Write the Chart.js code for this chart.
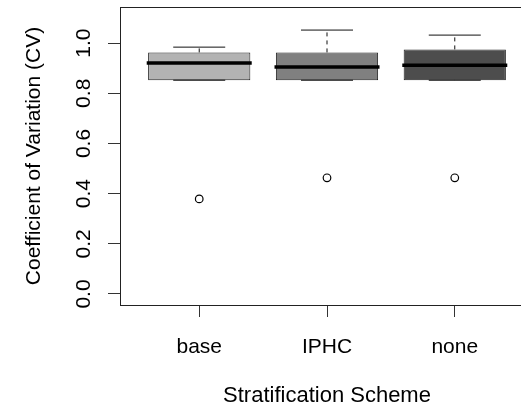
<!DOCTYPE html>
<html>
<head>
<meta charset="utf-8">
<script src="https://cdn.jsdelivr.net/npm/chart.js@4.4.1/dist/chart.umd.min.js"></script>
<style>
    html, body { margin: 0; padding: 0; background: #ffffff; overflow: hidden; }
    #grafico { display: block; }
</style>
</head>
<body>
<canvas id="grafico" width="560" height="409"></canvas>
<script>
const esquemas = ["base", "IPHC", "none"];
const posicoes = [1, 2, 3];
const minimos = [0.852, 0.852, 0.852];
const quartil1 = [0.852, 0.852, 0.852];
const medianas = [0.921, 0.905, 0.912];
const quartil3 = [0.963, 0.963, 0.975];
const maximos = [0.984, 1.052, 1.032];
const outliers = [0.379, 0.463, 0.463];
const coresCaixa = ['#b3b3b3', '#808080', '#4d4d4d'];
const yTicks = [0, 0.2, 0.4, 0.6, 0.8, 1.0];
const yTickLabels = ["0.0", "0.2", "0.4", "0.6", "0.8", "1.0"];

const fonte = { family: "'Liberation Sans', Arial, sans-serif", size: 21 };

// moldura da area do grafico (box() do R)
const moldura = {
    id: 'moldura',
    afterDraw(chart) {
        const a = chart.chartArea;
        const ctx = chart.ctx;
        ctx.save();
        ctx.strokeStyle = '#222';
        ctx.lineWidth = 1;
        ctx.strokeRect(a.left + 0.5, a.top + 0.5, a.right - a.left, a.bottom - a.top);
        ctx.restore();
    }
};

const bigodes = posicoes.map((p, i) => ({
    type: 'line',
    data: [{ x: p, y: quartil3[i] }, { x: p, y: maximos[i] }],
    borderColor: '#111',
    borderWidth: 1,
    borderDash: [4, 4],
    pointRadius: 0,
    order: 4
}));

const bigodesBaixo = posicoes.map((p, i) => ({
    type: 'line',
    data: [{ x: p, y: quartil1[i] }, { x: p, y: minimos[i] }],
    borderColor: '#111',
    borderWidth: 1,
    borderDash: [4, 4],
    pointRadius: 0,
    order: 4
}));

new Chart(document.getElementById("grafico"), {
    type: 'bar',
    data: {
        datasets: [
            {
                label: "caixas",
                data: posicoes.map((p, i) => ({ x: p, y: [quartil1[i], quartil3[i]] })),
                backgroundColor: coresCaixa,
                borderColor: '#222',
                borderWidth: 1,
                borderSkipped: false,
                categoryPercentage: 1,
                barPercentage: 0.8,
                order: 5
            },
            ...bigodes,
            ...bigodesBaixo,
            {
                type: 'line',
                label: "limites",
                data: posicoes.map((p, i) => ({ x: p, y: maximos[i] }))
                    .concat(posicoes.map((p, i) => ({ x: p, y: minimos[i] }))),
                showLine: false,
                pointStyle: 'line',
                pointRadius: 26,
                pointBorderWidth: 1,
                pointBorderColor: '#111',
                order: 3
            },
            {
                type: 'line',
                label: "medianas",
                data: posicoes.map((p, i) => ({ x: p, y: medianas[i] })),
                showLine: false,
                pointStyle: 'line',
                pointRadius: 52.5,
                pointBorderWidth: 3.5,
                pointBorderColor: '#000',
                order: 1
            },
            {
                type: 'line',
                label: "outliers",
                data: posicoes.map((p, i) => ({ x: p, y: outliers[i] })),
                showLine: false,
                pointStyle: 'circle',
                pointRadius: 3.8,
                pointBorderWidth: 1.2,
                pointBorderColor: '#000',
                pointBackgroundColor: '#fff',
                order: 2
            }
        ]
    },
    options: {
        responsive: false,
        animation: false,
        layout: { autoPadding: false, padding: { top: 7, right: 26, left: 0, bottom: 0 } },
        plugins: {
            legend: { display: false },
            tooltip: { enabled: false }
        },
        scales: {
            x: {
                type: 'linear',
                min: 0.38,
                max: 3.62,
                offset: false,
                afterBuildTicks: (s) => { s.ticks = posicoes.map(v => ({ value: v })); },
                afterFit: (s) => { s.height = 104; s.paddingLeft = 0; s.paddingRight = 0; },
                ticks: {
                    callback: (v, i) => esquemas[i],
                    color: '#000',
                    font: fonte,
                    padding: 18,
                    maxRotation: 0,
                    autoSkip: false
                },
                grid: { display: true, offset: false, drawOnChartArea: false, drawTicks: true, tickLength: 12, color: '#333' },
                border: { display: false },
                title: {
                    display: true,
                    text: "Stratification Scheme",
                    color: '#000',
                    font: { family: fonte.family, size: 22 },
                    padding: { top: 0, bottom: 0 }
                }
            },
            y: {
                min: -0.044,
                max: 1.144,
                afterBuildTicks: (s) => { s.ticks = yTicks.map(v => ({ value: v })); },
                afterFit: (s) => { s.width = 120; s.paddingTop = 0; s.paddingBottom = 0; },
                ticks: {
                    callback: (v, i) => yTickLabels[i],
                    color: '#000',
                    font: fonte,
                    minRotation: 90,
                    maxRotation: 90,
                    crossAlign: 'center',
                    padding: 9,
                    autoSkip: false
                },
                grid: { display: true, drawOnChartArea: false, drawTicks: true, tickLength: 12, color: '#333' },
                border: { display: false },
                title: {
                    display: true,
                    text: "Coefficient of Variation (CV)",
                    color: '#000',
                    font: fonte,
                    padding: { top: 22, bottom: 0 }
                }
            }
        }
    },
    plugins: [moldura]
});
</script>
</body>
</html>
